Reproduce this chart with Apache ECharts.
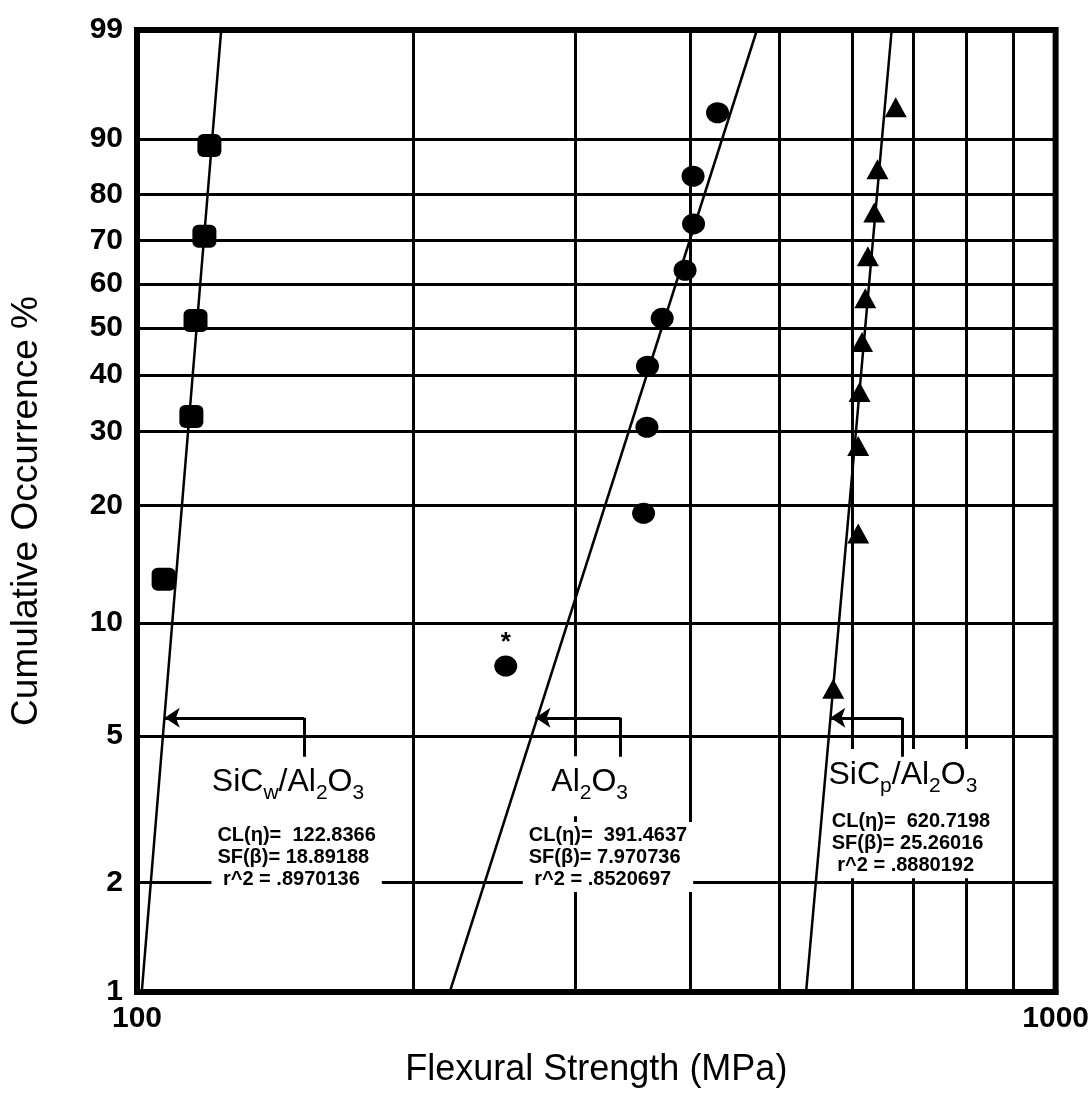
<!DOCTYPE html>
<html><head><meta charset="utf-8">
<script src="https://cdn.jsdelivr.net/npm/echarts@6/dist/echarts.min.js"></script>
<style>html,body{margin:0;padding:0;background:#fff}#chart{width:1092px;height:1093px}</style>
</head><body><div id="chart"></div>
<script>
// ---- axis ticks ----
const occurrenceTicks = [1, 2, 5, 10, 20, 30, 40, 50, 60, 70, 80, 90, 99];
const strengthGrid = [200, 300, 400, 500, 600, 700, 800, 900];

// ---- data points (MPa, cumulative %) ----
const sicwStrength = [106.9, 114.6, 115.8, 118.4, 119.9];
const sicwOccurrence = [13.0, 32.5, 51.5, 71.0, 89.0];
const al2o3Strength = [252, 356, 359, 359.5, 373, 395, 403.5, 403, 428.5];
const al2o3Occurrence = [7.7, 19.1, 30.7, 41.8, 52.0, 63.1, 73.8, 83.7, 93.4];
const al2o3StarIndex = 0;
const sicpStrength = [572.7, 609.7, 609.7, 611.7, 615.6, 620.6, 624.6, 634.7, 639.8, 669.8];
const sicpOccurrence = [6.7, 17.0, 27.8, 36.8, 46.8, 56.6, 66.4, 76.3, 85.0, 94.0];

// ---- Weibull fit lines (strength at 1% and 99%) ----
const fitOccurrence = [1, 99];
const sicwFit = [101.2, 123.5];
const al2o3Fit = [219, 473];
const sicpFit = [535, 663];

// ---- pointer arrows (tail strength, tip strength) ----
const arrowOccurrence = [4.4, 5.6];
const sicwArrow = [152, 107.2];
const al2o3Arrow = [336, 271.5];
const sicpArrow = [680, 568.5];

// ---- annotation texts ----
const groupTitles = ['{m|SiC}{s|w}{m|/Al}{s|2}{m|O}{s|3}', '{m|Al}{s|2}{m|O}{s|3}', '{m|SiC}{s|p}{m|/Al}{s|2}{m|O}{s|3}'];
const clValues = ['122.8366', '391.4637', '620.7198'];
const sfValues = ['18.89188', '7.970736', '25.26016'];
const r2Values = ['.8970136', '.8520697', '.8880192'];

const FONT = 'Liberation Sans, Arial, Helvetica, sans-serif';
const W = p => Math.log(-Math.log(1 - p / 100));
const invW = v => 100 * (1 - Math.exp(-Math.exp(v)));
const pts = (xs, ps) => xs.map((x, i) => [x, W(ps[i])]);

const chart = echarts.init(document.getElementById('chart'));

const gridMarks = strengthGrid.map(v => ({ xAxis: v }))
  .concat(occurrenceTicks.slice(1, -1).map(p => ({ yAxis: W(p) })));

const fitSeries = (name, fit) => ({
  type: 'line', name, z: 2, silent: true, showSymbol: false, symbol: 'none',
  data: pts(fit, fitOccurrence), lineStyle: { color: '#000', width: 2.5 }, clip: true
});

const arrowData = [sicwArrow, al2o3Arrow, sicpArrow];
const markerStyle = { color: '#000', opacity: 1 };

const option = {
  animation: false,
  backgroundColor: '#fff',
  grid: { left: 133, right: 32, top: 30, bottom: 101, show: true, borderColor: '#000', borderWidth: 6 },
  xAxis: {
    type: 'log', logBase: 10, min: 100, max: 1000,
    axisLine: { show: true, onZero: false, lineStyle: { color: '#000', width: 6 } },
    axisTick: { show: false }, splitLine: { show: false }, minorTick: { show: false },
    axisLabel: { color: '#000', fontSize: 30, fontWeight: 'bold', fontFamily: FONT, margin: 12,
      formatter: v => String(Math.round(v)) },
    name: 'Flexural Strength (MPa)', nameLocation: 'middle', nameGap: 60,
    nameTextStyle: { color: '#000', fontSize: 36, fontFamily: FONT }
  },
  yAxis: {
    type: 'value', min: W(1), max: W(99),
    axisLine: { show: true, onZero: false, lineStyle: { color: '#000', width: 6 } },
    axisTick: { show: false }, splitLine: { show: false },
    axisLabel: {
      customValues: occurrenceTicks.map(W),
      formatter: v => String(Math.round(invW(v))),
      color: '#000', fontSize: 30, fontWeight: 'bold', fontFamily: FONT, margin: 14
    },
    name: 'Cumulative Occurrence %', nameLocation: 'middle', nameGap: 92, nameRotate: 90,
    nameTextStyle: { color: '#000', fontSize: 37, fontFamily: FONT }
  },
  series: [
    {
      type: 'line', name: 'grid', data: [], silent: true,
      markLine: {
        silent: true, z: 0, symbol: 'none', animation: false,
        label: { show: false }, emphasis: { disabled: true },
        lineStyle: { color: '#000', width: 3, type: 'solid' },
        data: gridMarks
      }
    },
    fitSeries('SiCw fit', sicwFit),
    fitSeries('Al2O3 fit', al2o3Fit),
    fitSeries('SiCp fit', sicpFit),
    {
      type: 'lines', coordinateSystem: 'cartesian2d', z: 2, silent: true,
      symbol: ['none', 'arrow'], symbolSize: 15,
      lineStyle: { color: '#000', width: 3, opacity: 1, curveness: 0 },
      data: arrowData.map(a => ({ coords: [[a[0], W(arrowOccurrence[1])], [a[1], W(arrowOccurrence[1])]] }))
    },
    {
      type: 'lines', coordinateSystem: 'cartesian2d', z: 2, silent: true,
      symbol: 'none',
      lineStyle: { color: '#000', width: 3, opacity: 1, curveness: 0 },
      data: arrowData.map(a => ({ coords: [[a[0], W(arrowOccurrence[0])], [a[0], W(arrowOccurrence[1])]] }))
    },
    {
      type: 'scatter', name: 'SiCw/Al2O3', z: 3, symbol: 'roundRect', symbolSize: [24, 23],
      itemStyle: markerStyle, data: pts(sicwStrength, sicwOccurrence)
    },
    {
      type: 'scatter', name: 'Al2O3', z: 3, symbol: 'circle', symbolSize: [23, 21],
      itemStyle: markerStyle,
      data: pts(al2o3Strength, al2o3Occurrence).map((v, i) => i === al2o3StarIndex ? {
        value: v,
        label: { show: true, formatter: '*', position: 'top', distance: 0, color: '#000', fontSize: 26, fontWeight: 'bold', fontFamily: FONT }
      } : v)
    },
    {
      type: 'scatter', name: 'SiCp/Al2O3', z: 3, symbol: 'triangle', symbolSize: [22, 20],
      itemStyle: markerStyle, data: pts(sicpStrength, sicpOccurrence)
    }
  ]
};
chart.setOption(option);

// annotation anchors (strength, occurrence %)
const titleAnchors = [[146, 3.66], [311, 3.66], [682, 3.83]];
const statAnchors = [[120.5, 2.345], [263, 2.345], [562, 2.56]];
const richTitle = {
  m: { fontSize: 32, lineHeight: 44, fontFamily: FONT, fill: '#000', verticalAlign: 'middle' },
  s: { fontSize: 21, lineHeight: 21, fontFamily: FONT, fill: '#000', verticalAlign: 'bottom' }
};
const graphics = [];
for (let i = 0; i < 3; i++) {
  const tp = chart.convertToPixel({ gridIndex: 0 }, [titleAnchors[i][0], W(titleAnchors[i][1])]);
  const sp = chart.convertToPixel({ gridIndex: 0 }, [statAnchors[i][0], W(statAnchors[i][1])]);
  graphics.push({
    type: 'text', x: tp[0], y: tp[1], z: 1,
    style: {
      text: groupTitles[i], rich: richTitle, fontSize: 32, fontFamily: FONT, fill: '#000',
      align: 'center', verticalAlign: 'middle', textAlign: 'center', textVerticalAlign: 'middle',
      backgroundColor: '#fff', padding: [4, 8, 12, 8]
    }
  });
  graphics.push({
    type: 'text', x: sp[0], y: sp[1], z: 1,
    style: {
      text: 'CL(η)=  ' + clValues[i] + '\nSF(β)= ' + sfValues[i] + '\n r^2 = ' + r2Values[i],
      fontSize: 20, fontWeight: 'bold', fontFamily: FONT, fill: '#000', lineHeight: 22,
      align: 'left', verticalAlign: 'middle', textAlign: 'left', textVerticalAlign: 'middle',
      backgroundColor: '#fff', padding: [2, 6, 2, 6]
    }
  });
}
chart.setOption({ graphic: graphics });
</script>
</body></html>
